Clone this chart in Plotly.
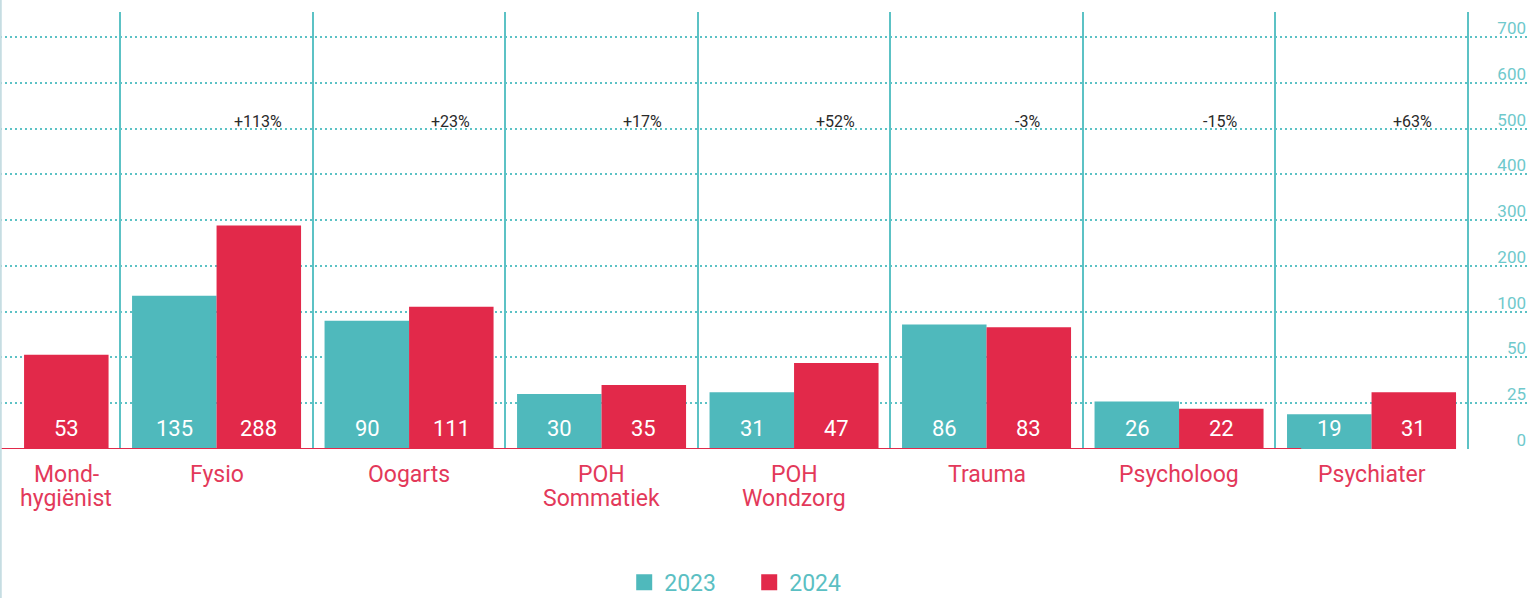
import numpy as np
import plotly.graph_objects as go

# ---------------- data ----------------
categories = ["Mond-hygiënist", "Fysio", "Oogarts", "POH Sommatiek",
              "POH Wondzorg", "Trauma", "Psycholoog", "Psychiater"]
category_lines = [["Mond-", "hygiënist"], ["Fysio"], ["Oogarts"], ["POH", "Sommatiek"],
                  ["POH", "Wondzorg"], ["Trauma"], ["Psycholoog"], ["Psychiater"]]
values_2023 = [None, 135, 90, 30, 31, 86, 26, 19]
values_2024 = [53, 288, 111, 35, 47, 83, 22, 31]
change_labels = [None, "+113%", "+23%", "+17%", "+52%", "-3%", "-15%", "+63%"]
axis_ticks = [0, 25, 50, 100, 200, 300, 400, 500, 600, 700]
tick_labels = [str(t) for t in axis_ticks]
series_names = ["2023", "2024"]

# ---------------- styles ----------------
TEAL = "#4fb9bc"
RED = "#e2294a"
GRID = "#5cc2c5"
TICK = "#6fc9cc"
CAT = "#e3395a"
LEGEND_TXT = "#5bbfc3"
FONT = "Roboto"

# the chart uses a stepped value axis: every labelled tick is equally spaced
tick_pos = np.arange(len(axis_ticks), dtype=float)


def to_axis(vals):
    return [None if v is None else float(np.interp(v, axis_ticks, tick_pos)) for v in vals]


fig = go.Figure()
annotations = []
series = [(series_names[0], values_2023, TEAL, -42), (series_names[1], values_2024, RED, 42)]
for name, vals, col, shift in series:
    fig.add_trace(go.Bar(
        name=name, x=categories, y=to_axis(vals),
        customdata=vals,
        hovertemplate="%{x}: %{customdata}<extra>" + name + "</extra>",
        marker=dict(color=col, line=dict(width=0)),
        showlegend=False,
    ))
    # value labels near the foot of each bar
    for cat, v in zip(categories, vals):
        if v is None:
            continue
        annotations.append(dict(
            x=cat, y=0, xref="x", yref="y", text=str(v), showarrow=False,
            xshift=shift, yshift=21, yanchor="middle",
            font=dict(family=FONT, size=22, color="white"),
        ))

# legend entries (larger square symbols)
for name, col in [(series_names[0], TEAL), (series_names[1], RED)]:
    fig.add_trace(go.Scatter(
        x=[None], y=[None], mode="markers", name=name,
        marker=dict(symbol="square", size=22, color=col),
        showlegend=True,
    ))

# percentage changes above each group (over the 2024 bar)
for cat, lab in zip(categories, change_labels):
    if lab is None:
        continue
    annotations.append(dict(
        x=cat, y=tick_pos[axis_ticks.index(500)], xref="x", yref="y",
        text=lab, showarrow=False, xshift=41, yshift=-4, yanchor="bottom",
        font=dict(family=FONT, size=16, color="#2a2a2a"),
    ))
# category labels beneath the axis
for i, (cat, lines) in enumerate(zip(categories, category_lines)):
    for j, line in enumerate(lines):
        annotations.append(dict(
            x=cat, y=0, xref="x", yref="y", text=line, showarrow=False,
            yanchor="top", yshift=-10 - 24 * j, xshift=42 if i == 0 else 0,
            font=dict(family=FONT, size=23, color=CAT),
        ))

shapes = [
    # crimson baseline
    dict(type="line", xref="paper", yref="y", x0=0, x1=0.851, y0=0, y1=0,
         line=dict(color=RED, width=2), layer="above"),
    # light page border at the left
    dict(type="line", xref="paper", yref="paper", x0=0.0005, x1=0.0005, y0=-0.36, y1=1.03,
         line=dict(color="#c6dde2", width=2), layer="above"),
]

fig.update_layout(
    width=1531, height=598,
    margin=dict(l=0, r=2, t=12, b=149, autoexpand=False),
    paper_bgcolor="white", plot_bgcolor="white",
    barmode="group", bargap=0.122, bargroupgap=0,
    font=dict(family=FONT),
    annotations=annotations, shapes=shapes,
    legend=dict(orientation="h", x=0.49, xanchor="center",
                yref="paper", y=-0.305, yanchor="middle",
                entrywidth=80, entrywidthmode="pixels",
                font=dict(family=FONT, size=23, color=LEGEND_TXT),
                itemsizing="trace", bgcolor="rgba(0,0,0,0)"),
    xaxis=dict(
        type="category", range=[-0.125, 7.818],
        tickson="boundaries", showgrid=True, gridcolor=GRID, gridwidth=1.5,
        showticklabels=False, ticks="", showline=False, zeroline=False,
        fixedrange=True,
    ),
    yaxis=dict(
        range=[0, 9.546], side="right", tickmode="array",
        tickvals=list(tick_pos), ticktext=tick_labels,
        ticklabelposition="inside", ticklabelshift=-9, ticklabeloverflow="allow",
        tickfont=dict(family=FONT, size=17, color=TICK),
        showgrid=True, gridcolor=GRID, gridwidth=1.5, griddash="2px,3px",
        zeroline=False, showline=False, ticks="", fixedrange=True,
    ),
)

fig.write_html("out.html", config={"displayModeBar": False},
               post_script="document.body.style.margin='0';")
